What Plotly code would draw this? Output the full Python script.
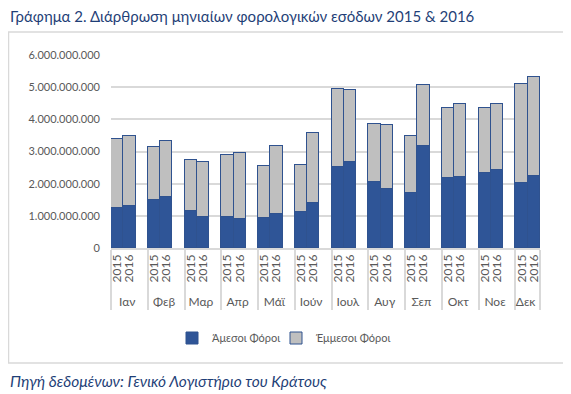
import plotly.graph_objects as go

months = ["Ιαν", "Φεβ", "Μαρ", "Απρ", "Μάϊ", "Ιούν", "Ιουλ", "Αυγ", "Σεπ", "Οκτ", "Νοε", "Δεκ"]
years = ["2015", "2016"]
# values in billions of euro
direct_2015 = [1.24, 1.49, 1.15, 0.96, 0.93, 1.12, 2.52, 2.05, 1.71, 2.17, 2.33, 2.02]
direct_2016 = [1.30, 1.58, 0.96, 0.90, 1.06, 1.40, 2.66, 1.83, 3.17, 2.20, 2.42, 2.24]
indirect_2015 = [2.14, 1.64, 1.60, 1.92, 1.61, 1.45, 2.41, 1.79, 1.76, 2.17, 2.01, 3.09]
indirect_2016 = [2.19, 1.76, 1.70, 2.04, 2.10, 2.19, 2.24, 1.98, 1.91, 2.29, 2.07, 3.09]
y_ticks = [0, 1e9, 2e9, 3e9, 4e9, 5e9, 6e9]

outer, inner, ydir, yind = [], [], [], []
for i, m in enumerate(months):
    for yr, d, ind in ((years[0], direct_2015[i], indirect_2015[i]),
                       (years[1], direct_2016[i], indirect_2016[i])):
        outer.append(m); inner.append(yr)
        ydir.append(d * 1e9); yind.append(ind * 1e9)
    if i < len(months) - 1:
        outer.append(m); inner.append(" ")
        ydir.append(None); yind.append(None)

BLUE = "#2f5597"
GRAY = "#bfbfbf"
EDGE = "#2f528f"
TXT = "#595959"
FONT = "Lato"

OFF = 8  # browser body margin
W, H = 571 - OFF, 394 - OFF
L = 111 - OFF
T = 55 - OFF
R = W - (540 - OFF)
B = H - (248 - OFF)
pw, ph = W - L - R, H - T - B

def px(x):
    return (x - OFF - L) / pw

def py(y):
    return (H - B - (y - OFF)) / ph

fig = go.Figure()
fig.add_trace(go.Bar(x=[outer, inner], y=ydir, name="Άμεσοι Φόροι", legend="legend",
                     showlegend=True,
                     marker=dict(color=BLUE, line=dict(color=EDGE, width=1))))
fig.add_trace(go.Bar(x=[outer, inner], y=yind, name="Έμμεσοι Φόροι", legend="legend2",
                     showlegend=True,
                     marker=dict(color=GRAY, line=dict(color=EDGE, width=1))))

leg_common = dict(orientation="h", yanchor="middle", xanchor="left",
                  font=dict(family=FONT, size=11, color=TXT), itemwidth=30,
                  bgcolor="rgba(0,0,0,0)")

fig.update_layout(
    width=W, height=H, barmode="stack", bargap=0,
    separators=",.", showlegend=True,
    margin=dict(l=L, r=R, t=T, b=B, autoexpand=False),
    paper_bgcolor="white", plot_bgcolor="white",
    font=dict(family=FONT, size=11, color=TXT),
    legend=dict(x=px(172), y=py(338), **leg_common),
    legend2=dict(x=px(276), y=py(338), **leg_common),
    shapes=[dict(type="rect", xref="paper", yref="paper",
                 x0=px(8.5), x1=px(564), y0=py(363), y1=py(32),
                 line=dict(color="#d9d9d9", width=1.5), fillcolor="rgba(0,0,0,0)", layer="below")],
    annotations=[
        dict(text="Γράφημα 2. Διάρθρωση μηνιαίων φορολογικών εσόδων 2015 & 2016",
             xref="paper", yref="paper", x=px(8), y=py(16), xanchor="left", yanchor="middle",
             showarrow=False, font=dict(family=FONT, size=15, color="#1f3f77")),
        dict(text="<i>Πηγή δεδομένων: Γενικό Λογιστήριο του Κράτους</i>",
             xref="paper", yref="paper", x=px(8), y=py(381), xanchor="left", yanchor="middle",
             showarrow=False, font=dict(family=FONT, size=15.5, color="#1f3f77")),
    ],
)
fig.update_yaxes(range=[0, 6e9], tickvals=y_ticks, tickformat=",d",
                 showgrid=True, gridcolor="#d9d9d9", gridwidth=1.5,
                 zeroline=False, showline=False, ticks="", ticklabelstandoff=10,
                 tickfont=dict(family=FONT, size=11, color=TXT))
fig.update_xaxes(type="multicategory", tickangle=-90, tickmode="linear", tick0=0, dtick=1,
                 showline=True, linecolor="#d9d9d9",
                 linewidth=1.5, showdividers=True, dividercolor="#d9d9d9", dividerwidth=1.5,
                 ticks="", tickfont=dict(family=FONT, size=12, color=TXT))

fig.write_html("out.html")
